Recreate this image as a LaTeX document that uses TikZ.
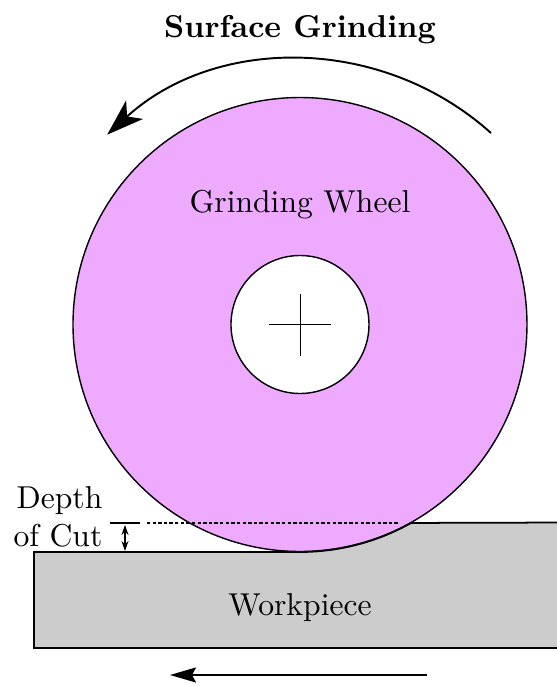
\documentclass[tikz,border=0pt]{standalone}
\usetikzlibrary{arrows.meta}
\definecolor{wheelpink}{HTML}{EEAAFF}
\definecolor{workgray}{HTML}{CCCCCC}
\tikzset{
  bigtip/.style={-{Stealth[length=3.7mm,width=2.5mm,inset=1mm]}},
  feedtip/.style={-{Stealth[length=2.6mm,width=1.5mm,inset=0.4mm]}},
  smalltip/.style={{Stealth[length=1mm,width=0.7mm]}-{Stealth[length=1mm,width=0.7mm]}},
  label/.style={inner sep=0pt,scale=0.9}
}
\begin{document}
\begin{tikzpicture}
    \useasboundingbox (-3,-3.615) rectangle (2.56,3.245);
    \fill[wheelpink] (0,0) circle (2.27);
    \draw[fill=workgray,line width=0.5pt] (-2.66,-2.275) -- (0,-2.275) arc (-90:-60.7:2.27) -- (2.7,-1.98) -- (2.7,-3.235) -- (-2.66,-3.235) -- cycle;
    \draw (0,0) circle (2.27);
    \draw[fill=white] (0,0) circle (0.69);
    \draw[line width=0.25pt] (-0.31,0) -- (0.31,0);
    \draw[line width=0.25pt] (0,-0.31) -- (0,0.31);
    \node[label] (title) at (0,2.945) {\textbf{Surface Grinding}};
    \node[label] (wheel) at (0,1.195) {Grinding Wheel};
    \node[label] (work) at (0,-2.835) {Workpiece};
    \node[label,align=right,anchor=east] (depth) at (-1.97,-1.925) {Depth\\of Cut};
    \coordinate (cutleft) at (-1.9,-1.985);
    \coordinate (cutmid) at (-1.6,-1.985);
    \coordinate (dotstart) at (-1.53,-1.985);
    \coordinate (dotend) at (0.98,-1.985);
    \coordinate (cuttop) at (-1.75,-2.005);
    \coordinate (cutbot) at (-1.75,-2.265);
    \draw (cutleft) -- (cutmid);
    \draw[dash pattern=on 0.95pt off 0.65pt] (dotstart) -- (dotend);
    \draw[smalltip] (cuttop) -- (cutbot);
    \draw[bigtip,line width=0.55pt] (1.91,1.915) arc (48.1:132.4:2.86);
    \coordinate (feedstart) at (1.27,-3.505);
    \coordinate (feedend) at (-1.3,-3.505);
    \draw[feedtip,line width=0.5pt] (feedstart) -- (feedend);
\end{tikzpicture}
\end{document}
